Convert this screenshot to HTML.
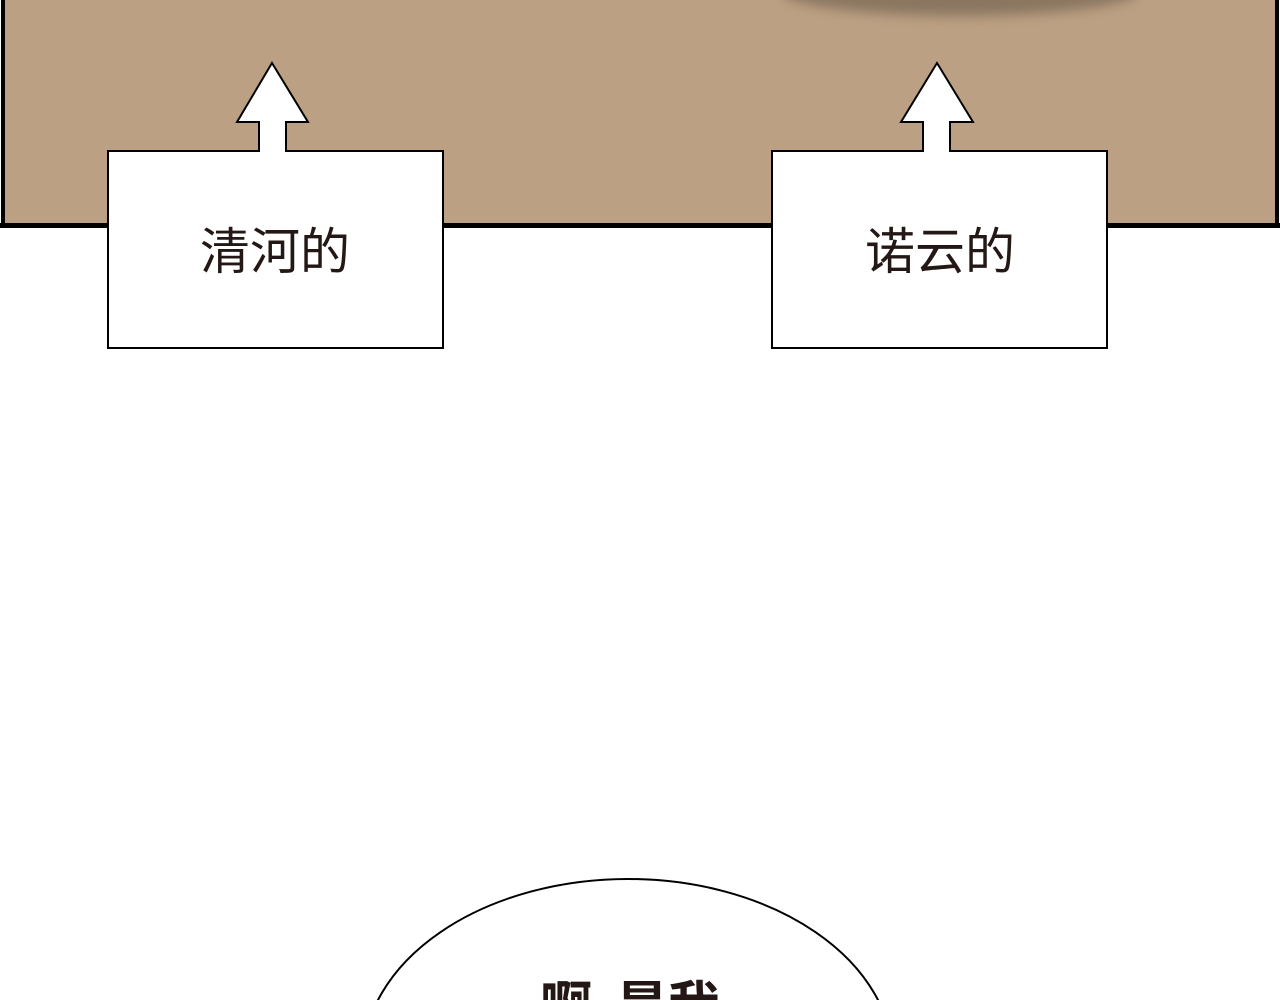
<!DOCTYPE html>
<html><head><meta charset="utf-8"><style>
html,body{margin:0;padding:0;width:1280px;height:1000px;overflow:hidden;background:#fff}
svg{display:block}
text{font-family:"Liberation Sans","Noto Sans CJK SC",sans-serif;fill:#231815}
</style></head><body>
<svg width="1280" height="1000" viewBox="0 0 1280 1000">
<defs>
<filter id="b" x="-20%" y="-50%" width="140%" height="200%"><feGaussianBlur stdDeviation="6"/></filter>
<clipPath id="c"><rect x="0" y="0" width="1280" height="1000"/></clipPath>
</defs>
<g clip-path="url(#c)">
<rect x="3" y="-5" width="1274" height="230" fill="#bca083" stroke="#000" stroke-width="4"/>
<rect x="0" y="223" width="1280" height="5" fill="#000"/>
<ellipse cx="960" cy="-10" rx="180" ry="26" fill="#8a7660" filter="url(#b)"/>
<path d="M272,63 L308,122 L286,122 L286,153 L259,153 L259,122 L237,122 Z" fill="#fff" stroke="#000" stroke-width="2"/>
<rect x="108" y="151" width="335" height="197" fill="#fff" stroke="#000" stroke-width="2"/>
<rect x="260" y="148" width="25" height="6" fill="#fff"/>
<text x="275" y="269" font-size="50" text-anchor="middle">清河的</text>
<path d="M937,63 L973,122 L950,122 L950,153 L923,153 L923,122 L901,122 Z" fill="#fff" stroke="#000" stroke-width="2"/>
<rect x="772" y="151" width="335" height="197" fill="#fff" stroke="#000" stroke-width="2"/>
<rect x="924" y="148" width="25" height="6" fill="#fff"/>
<text x="940" y="269" font-size="50" text-anchor="middle">诺云的</text>
<ellipse cx="628" cy="1060" rx="265" ry="181" fill="#fff" stroke="#000" stroke-width="2"/>
<text x="540" y="1024" font-size="52" font-weight="bold">啊</text>
<text x="616" y="1024" font-size="52" font-weight="bold">是我</text>
</g>
</svg>
</body></html>
